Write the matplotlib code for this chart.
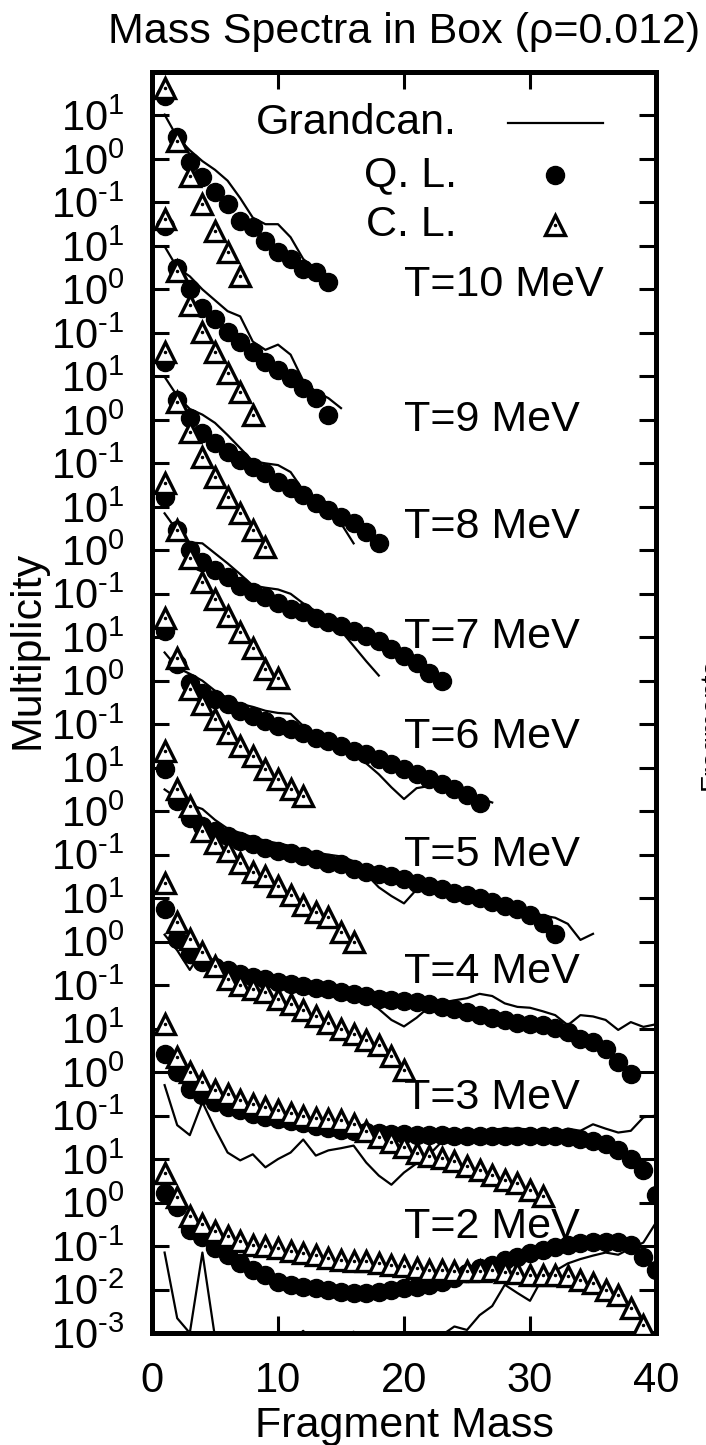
import numpy as np
import matplotlib
matplotlib.use("Agg")
import matplotlib.pyplot as plt

plt.rcParams['font.family'] = ['Liberation Sans', 'DejaVu Sans']
plt.rcParams['mathtext.fontset'] = 'custom'
plt.rcParams['mathtext.rm'] = 'Liberation Sans'
plt.rcParams['mathtext.it'] = 'Liberation Sans:italic'
plt.rcParams['mathtext.bf'] = 'Liberation Sans:bold'

# log10(multiplicity), fragment mass = 1, 2, 3, ...
# ql = quantum (Q. L.), cl = classical (C. L.), gc = grandcanonical line
ql_t10 = [1.45, 0.51, -0.07, -0.42, -0.76, -1.04, -1.43, -1.57, -1.89, -2.15, -2.31, -2.54, -2.61, -2.84]
cl_t10 = [1.63, 0.42, -0.39, -1.04, -1.66, -2.15, -2.70]
gc_t10 = [1.02, 0.5, 0.2, -0.05, -0.25, -0.5, -0.9, -1.35, -1.5, -1.5, -1.8, -2.3, -2.55]

ql_t9 = [1.45, 0.5, 0.0, -0.42, -0.69, -0.97, -1.2, -1.43, -1.66, -1.85, -2.03, -2.26, -2.5, -2.88]
cl_t9 = [1.62, 0.42, -0.35, -0.97, -1.45, -1.92, -2.36, -2.88]
gc_t9 = [0.99, 0.5, 0.3, 0.0, -0.25, -0.5, -0.62, -1.2, -1.39, -1.27, -1.5, -2.1, -2.35, -2.5, -2.73]

ql_t8 = [1.34, 0.46, 0.05, -0.30, -0.53, -0.74, -0.92, -1.09, -1.22, -1.43, -1.57, -1.73, -1.92, -2.08,
         -2.24, -2.38, -2.59, -2.84]
cl_t8 = [1.55, 0.42, -0.28, -0.85, -1.32, -1.78, -2.15, -2.54, -2.93]
gc_t8 = [0.99, 0.55, 0.25, 0.12, -0.07, -0.35, -0.65, -0.95, -1.0, -1.04, -1.2, -1.62, -1.78, -1.92,
         -2.38, -2.84]

ql_t7 = [1.22, 0.46, 0.0, -0.28, -0.46, -0.62, -0.81, -0.97, -1.08, -1.22, -1.34, -1.43, -1.55, -1.66,
         -1.73, -1.85, -1.96, -2.08, -2.26, -2.42, -2.59, -2.82, -3.0]
cl_t7 = [1.55, 0.46, -0.18, -0.74, -1.11, -1.5, -1.89, -2.24, -2.72, -2.93]
gc_t7 = [0.85, 0.45, 0.18, 0.16, -0.07, -0.3, -0.55, -0.81, -0.86, -0.9, -1.0, -1.22, -1.4, -1.6,
         -1.85, -2.2, -2.55, -2.88]

ql_t6 = [1.15, 0.39, -0.05, -0.28, -0.42, -0.53, -0.69, -0.81, -0.92, -1.04, -1.11, -1.2, -1.32, -1.39,
         -1.5, -1.62, -1.69, -1.8, -1.92, -2.03, -2.15, -2.26, -2.38, -2.5, -2.62, -2.8]
cl_t6 = [1.45, 0.53, -0.2, -0.53, -0.88, -1.2, -1.5, -1.73, -2.03, -2.26, -2.5, -2.66]
gc_t6 = [0.65, 0.3, 0.16, 0.0, -0.23, -0.4, -0.53, -0.6, -0.69, -0.74, -0.76, -1.04, -1.2, -1.35,
         -1.5, -1.69, -1.9, -2.15, -2.45, -2.72, -2.47, -2.42, -2.4, -2.5, -2.6, -2.7, -2.8]

ql_t5 = [0.97, 0.23, -0.16, -0.35, -0.46, -0.58, -0.69, -0.76, -0.85, -0.92, -0.97, -1.04, -1.11, -1.2,
         -1.22, -1.32, -1.39, -1.45, -1.5, -1.57, -1.66, -1.73, -1.8, -1.87, -1.93, -2.0, -2.08, -2.17,
         -2.26, -2.38, -2.58, -2.82]
cl_t5 = [1.39, 0.5, 0.12, -0.45, -0.74, -0.92, -1.2, -1.39, -1.5, -1.73, -1.92, -2.15, -2.31, -2.43,
         -2.77, -3.0]
gc_t5 = [0.5, 0.3, 0.15, 0.05, -0.2, -0.4, -0.5, -0.6, -0.68, -0.74, -0.8, -0.9, -0.95, -1.0, -1.04,
         -1.15, -1.45, -1.75, -1.95, -2.12, -1.8, -1.75, -1.8, -1.85, -1.9, -2.0, -2.05, -2.1, -2.2,
         -2.3, -2.4, -2.45, -2.59, -2.96, -2.82]

ql_t4 = [0.74, 0.07, -0.28, -0.46, -0.58, -0.65, -0.74, -0.81, -0.85, -0.92, -0.97, -1.02, -1.06, -1.1,
         -1.15, -1.2, -1.26, -1.32, -1.35, -1.37, -1.39, -1.44, -1.5, -1.56, -1.62, -1.69, -1.75, -1.81,
         -1.86, -1.9, -1.92, -1.98, -2.08, -2.24, -2.31, -2.47, -2.77, -3.05]
cl_t4 = [1.34, 0.46, 0.07, -0.23, -0.55, -0.85, -1.0, -1.08, -1.15, -1.32, -1.43, -1.57, -1.7, -1.87,
         -2.0, -2.12, -2.26, -2.38, -2.62, -2.96]
gc_t4 = [0.16, -0.2, -0.65, -0.2, -0.5, -0.62, -0.72, -0.8, -0.85, -0.9, -0.95, -0.97, -1.0, -1.05,
         -1.1, -1.2, -1.3, -1.55, -1.8, -1.95, -1.75, -1.5, -1.4, -1.35, -1.3, -1.2, -1.25, -1.42, -1.5,
         -1.52, -1.6, -1.69, -1.92, -1.69, -1.72, -1.8, -2.03, -1.85, -1.96, -1.9]

ql_t3 = [0.42, 0.0, -0.39, -0.53, -0.69, -0.81, -0.88, -0.97, -1.04, -1.08, -1.13, -1.18, -1.23, -1.28,
         -1.32, -1.36, -1.38, -1.4, -1.42, -1.43, -1.44, -1.45, -1.45, -1.46, -1.46, -1.46, -1.46, -1.46,
         -1.46, -1.46, -1.47, -1.48, -1.5, -1.53, -1.58, -1.66, -1.8, -2.0, -2.24, -2.82]
cl_t3 = [1.1, 0.35, 0.0, -0.23, -0.42, -0.5, -0.65, -0.74, -0.81, -0.88, -0.94, -1.0, -1.05, -1.08,
         -1.11, -1.2, -1.35, -1.5, -1.6, -1.72, -1.85, -1.92, -1.98, -2.05, -2.15, -2.24, -2.36, -2.47,
         -2.54, -2.7, -2.84]
gc_t3 = [-0.3, -1.22, -1.45, -0.69, -1.3, -1.85, -2.03, -1.89, -2.19, -2.0, -1.85, -1.55, -1.92, -1.8,
         -1.75, -1.69, -2.08, -2.38, -2.59, -2.31, -2.1, -1.9, -1.6, -1.45, -1.4, -1.39, -1.32, -1.3,
         -1.3, -1.32, -1.35, -1.39, -1.3, -1.35, -1.2, -1.3, -1.39, -1.35, -1.04, -1.0]

ql_t2 = [0.22, -0.1, -0.63, -0.79, -1.05, -1.21, -1.39, -1.55, -1.67, -1.83, -1.9, -1.94, -1.97, -2.01,
         -2.06, -2.08, -2.08, -2.06, -2.01, -1.97, -1.94, -1.9, -1.83, -1.74, -1.62, -1.51, -1.44, -1.32,
         -1.25, -1.16, -1.09, -1.02, -0.98, -0.93, -0.91, -0.91, -0.91, -0.98, -1.25, -1.55]
cl_t2 = [0.69, 0.12, -0.3, -0.5, -0.65, -0.76, -0.88, -0.97, -1.0, -1.04, -1.11, -1.15, -1.2, -1.27,
         -1.32, -1.34, -1.34, -1.39, -1.43, -1.45, -1.5, -1.55, -1.55, -1.57, -1.57, -1.57, -1.55, -1.6,
         -1.63, -1.66, -1.66, -1.66, -1.69, -1.78, -1.85, -2.0, -2.12, -2.43, -2.82]
gc_t2 = [-1.15, -2.66, -3.0, -1.15, -3.1, -3.5, -3.6, -3.8, -3.6, -3.5, -3.2, -2.95, -3.3, -3.5, -3.2,
         -2.97, -3.3, -3.5, -3.6, -3.5, -3.4, -3.2, -3.05, -2.85, -2.93, -2.59, -2.38, -1.89, -2.08,
         -2.26, -1.73, -1.57, -1.4, -1.3, -1.22, -1.15, -1.2, -1.05, -0.92, -0.46]

temps = [10, 9, 8, 7, 6, 5, 4, 3, 2]
ql_all = [ql_t10, ql_t9, ql_t8, ql_t7, ql_t6, ql_t5, ql_t4, ql_t3, ql_t2]
cl_all = [cl_t10, cl_t9, cl_t8, cl_t7, cl_t6, cl_t5, cl_t4, cl_t3, cl_t2]
gc_all = [gc_t10, gc_t9, gc_t8, gc_t7, gc_t6, gc_t5, gc_t4, gc_t3, gc_t2]
# where the "T=.. MeV" labels sit, as exponent on the stacked axis
label_exp = [-2.90, -6.00, -8.46, -10.99, -13.29, -16.01, -18.70, -21.60, -24.56]

shift = 3  # decades between stacked spectra

fig = plt.figure(figsize=(7.06, 14.45), dpi=100)
ax = fig.add_axes([152 / 706, 1 - 1333 / 1445, 504 / 706, 1261 / 1445])
ax.set_yscale('log')

circ = dict(color='black', ms=13)
tri = dict(mfc='white', mec='black', mew=2.4, ms=14)

for k, T in enumerate(temps):
    f = 10.0 ** (-shift * k)
    gc = np.array(gc_all[k])
    ax.plot(np.arange(1, len(gc) + 1), 10.0 ** gc * f, color='black', lw=1.6, zorder=2)
    q = np.array(ql_all[k])
    ax.plot(np.arange(1, len(q) + 1), 10.0 ** q * f, 'o', zorder=3, **circ)
    c = np.array(cl_all[k])
    xc = np.arange(1, len(c) + 1)
    ax.plot(xc, 10.0 ** c * f, '^', zorder=4, **tri)
    ax.plot(xc, 10.0 ** c * f, '.', color='black', ms=3, zorder=5)
    ax.text(20, 10.0 ** label_exp[k], f'T={T} MeV', fontsize=31, ha='left', va='center', zorder=6)

ax.set_xlim(0, 40)
ax.set_ylim(10.0 ** (-3 - shift * 8), 1e2)

yt, yl = [], []
for k in range(len(temps)):
    exps = [1, 0, -1] if k < len(temps) - 1 else [1, 0, -1, -2, -3]
    for e in exps:
        yt.append(10.0 ** (e - shift * k))
        yl.append(r'$10^{\text{%d}}$' % e)
ax.set_yticks(yt)
ax.set_yticklabels(yl)
ax.yaxis.set_minor_locator(matplotlib.ticker.NullLocator())
ax.set_xticks([0, 10, 20, 30, 40])
ax.tick_params(axis='both', which='major', direction='in', length=12, width=2.2,
               top=True, right=True, labelsize=30, pad=20)
for s in ax.spines.values():
    s.set_linewidth(3.6)

ax.set_title('Mass Spectra in Box (\u03c1=0.012)', fontsize=31, pad=21)
ax.set_xlabel('Fragment Mass', fontsize=31, labelpad=4)
fig.text(28 / 706, 1 - 650 / 1445, 'Multiplicity', fontsize=31, rotation=90, ha='center', va='center')
# partly visible axis label of the neighbouring panel, cut by the right edge
fig.text(699 / 706, 1 - 724 / 1445, 'Fragments', fontsize=20, rotation=90, ha='left', va='center')

# gnuplot style key: right aligned text, sample on the right
def ax_xy(px, py):
    return (px - 152) / 504, 1 - (py - 72) / 1261

key_rows = [('Grandcan.', 123), ('Q. L.', 175), ('C. L.', 225)]
for i, (name, py) in enumerate(key_rows):
    tx, ty = ax_xy(457, py)
    ax.text(tx, ty, name, fontsize=31, ha='right', va='center', transform=ax.transAxes)
    if i == 0:
        x0, y0 = ax_xy(508, py)
        x1, _ = ax_xy(603, py)
        ax.plot([x0, x1], [y0, y0], color='black', lw=1.6, transform=ax.transAxes)
    else:
        mx, my = ax_xy(555, py)
        if i == 1:
            ax.plot([mx], [my], 'o', transform=ax.transAxes, **circ)
        else:
            ax.plot([mx], [my], '^', transform=ax.transAxes, **tri)
            ax.plot([mx], [my], '.', color='black', ms=3, transform=ax.transAxes)

fig.savefig('out.png', dpi=100)
